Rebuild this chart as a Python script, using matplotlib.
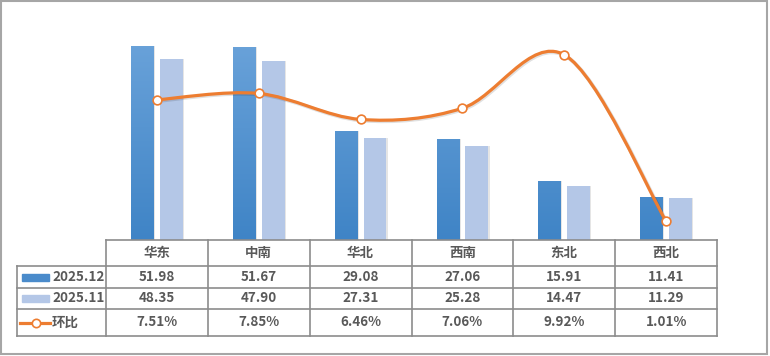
import numpy as np
import matplotlib
matplotlib.use("Agg")
import matplotlib.pyplot as plt
from matplotlib.path import Path
from matplotlib.patches import PathPatch, Rectangle
from matplotlib.lines import Line2D
from matplotlib.colors import LinearSegmentedColormap

plt.rcParams['font.family'] = ['Noto Sans CJK SC', 'DejaVu Sans']

# data
regions = ['华东', '中南', '华北', '西南', '东北', '西北']
dec_2025 = [51.98, 51.67, 29.08, 27.06, 15.91, 11.41]
nov_2025 = [48.35, 47.90, 27.31, 25.28, 14.47, 11.29]
mom_pct = [7.51, 7.85, 6.46, 7.06, 9.92, 1.01]
series_names = ['2025.12', '2025.11', '环比']

W, H = 770, 356
fig = plt.figure(figsize=(W / 100, H / 100), dpi=100)

# plot area in pixels
px_left, px_right, px_top, px_bottom = 106, 717, 16, 240
ax = fig.add_axes([px_left / W, 1 - px_bottom / H,
                   (px_right - px_left) / W, (px_bottom - px_top) / H])
ax2 = ax.twinx()

x = np.arange(len(regions))
bw = 0.225
off = 0.142
dark_top, dark_bot = '#6fa6dc', '#3f84c6'
light = '#b4c7e7'

# shadows
for xi, v in zip(x, dec_2025):
    ax.add_patch(Rectangle((xi - off - bw / 2 + 0.012, 0), bw, v, color='#000000',
                           alpha=0.10, lw=0, zorder=1))
for xi, v in zip(x, nov_2025):
    ax.add_patch(Rectangle((xi + off - bw / 2 + 0.012, 0), bw, v, color='#000000',
                           alpha=0.10, lw=0, zorder=1))

bars_dark = ax.bar(x - off, dec_2025, bw, color=dark_bot, zorder=2)
bars_light = ax.bar(x + off, nov_2025, bw, color=light, zorder=2)

cmap = LinearSegmentedColormap.from_list('g', [dark_bot, dark_top])
grad = np.linspace(0, 1, 256).reshape(-1, 1)
for b in bars_dark:
    x0 = b.get_x()
    im = ax.imshow(grad, extent=[x0, x0 + b.get_width(), 0, 60], origin='lower',
                   aspect='auto', cmap=cmap, zorder=3)
    im.set_clip_path(b)

ax.set_xlim(-0.5, len(regions) - 0.5)
ax.set_ylim(0, 60)
ax.axis('off')

# smoothed line (Catmull-Rom style bezier, like Excel smoothing)
orange = '#ed7d31'
pts = np.column_stack([x, mom_pct]).astype(float)
ext = np.vstack([pts[0], pts, pts[-1]])
verts = [tuple(pts[0])]
codes = [Path.MOVETO]
for i in range(len(pts) - 1):
    p0, p1, p2, p3 = ext[i], ext[i + 1], ext[i + 2], ext[i + 3]
    c1 = p1 + (p2 - p0) / 6
    c2 = p2 - (p3 - p1) / 6
    verts += [tuple(c1), tuple(c2), tuple(p2)]
    codes += [Path.CURVE4] * 3
path = Path(verts, codes)
shadow_tr = ax2.transData + matplotlib.transforms.ScaledTranslation(1 / 100, -1 / 100, fig.dpi_scale_trans)
ax2.add_patch(PathPatch(path, fill=False, edgecolor='#000000', alpha=0.12, lw=2.8,
                        transform=shadow_tr, zorder=4))
ax2.add_patch(PathPatch(path, fill=False, edgecolor=orange, lw=2.3, zorder=5,
                        capstyle='round', joinstyle='round'))
ax2.plot(x, mom_pct, 'o', ms=6.3, mfc='white', mec=orange, mew=1.2, zorder=6)
ax2.set_xlim(-0.5, len(regions) - 0.5)
ax2.set_ylim(0, 12)
ax2.axis('off')

# data table
line_c = '#8c8c8c'
text_c = '#595959'
col_edges = np.linspace(px_left, px_right, len(regions) + 1)
row_edges = [240, 266, 288, 309, 336]
leg_left = 17


def fx(p):
    return p / W


def fy(p):
    return 1 - p / H


def hline(y, x0, x1):
    fig.add_artist(Line2D([fx(x0), fx(x1)], [fy(y), fy(y)], color=line_c, lw=1.2))


def vline(xp, y0, y1):
    fig.add_artist(Line2D([fx(xp), fx(xp)], [fy(y0), fy(y1)], color=line_c, lw=1.2))


hline(row_edges[0], px_left, px_right)
for y in row_edges[1:]:
    hline(y, leg_left, px_right)
vline(leg_left, row_edges[1], row_edges[-1])
for xp in col_edges:
    vline(xp, row_edges[0], row_edges[-1])

fs = 9.7
centers_x = (col_edges[:-1] + col_edges[1:]) / 2
for cx, name in zip(centers_x, regions):
    fig.text(fx(cx), fy((row_edges[0] + row_edges[1]) / 2), name, ha='center', va='center',
             fontsize=fs, color=text_c, fontweight='bold')
rows = [[f'{v:.2f}' for v in dec_2025],
        [f'{v:.2f}' for v in nov_2025],
        [f'{v:.2f}%' for v in mom_pct]]
for r, vals in enumerate(rows):
    cy = (row_edges[r + 1] + row_edges[r + 2]) / 2
    for cx, t in zip(centers_x, vals):
        fig.text(fx(cx), fy(cy), t, ha='center', va='center', fontsize=fs,
                 color=text_c, fontweight='bold')
    fig.text(fx(52), fy(cy), series_names[r], ha='left', va='center', fontsize=fs,
             color=text_c, fontweight='bold')

# legend keys
cy1 = (row_edges[1] + row_edges[2]) / 2
cy2 = (row_edges[2] + row_edges[3]) / 2
cy3 = (row_edges[3] + row_edges[4]) / 2
fig.add_artist(Rectangle((fx(22), fy(cy1 + 3.5)), (49 - 22) / W, 7 / H, color='#4a8bcb'))
fig.add_artist(Rectangle((fx(22), fy(cy2 + 3.5)), (49 - 22) / W, 7 / H, color=light))
fig.add_artist(Line2D([fx(20), fx(50)], [fy(cy3), fy(cy3)], color=orange, lw=2.3))
fig.add_artist(Line2D([fx(36)], [fy(cy3)], marker='o', ms=6, mfc='white', mec=orange, mew=1.2))

# outer border
fig.add_artist(Rectangle((fx(1), fy(354)), 766 / W, 353 / H, fill=False,
                         edgecolor='#a6a6a6', lw=1.5))

fig.savefig('out.png', dpi=100)
